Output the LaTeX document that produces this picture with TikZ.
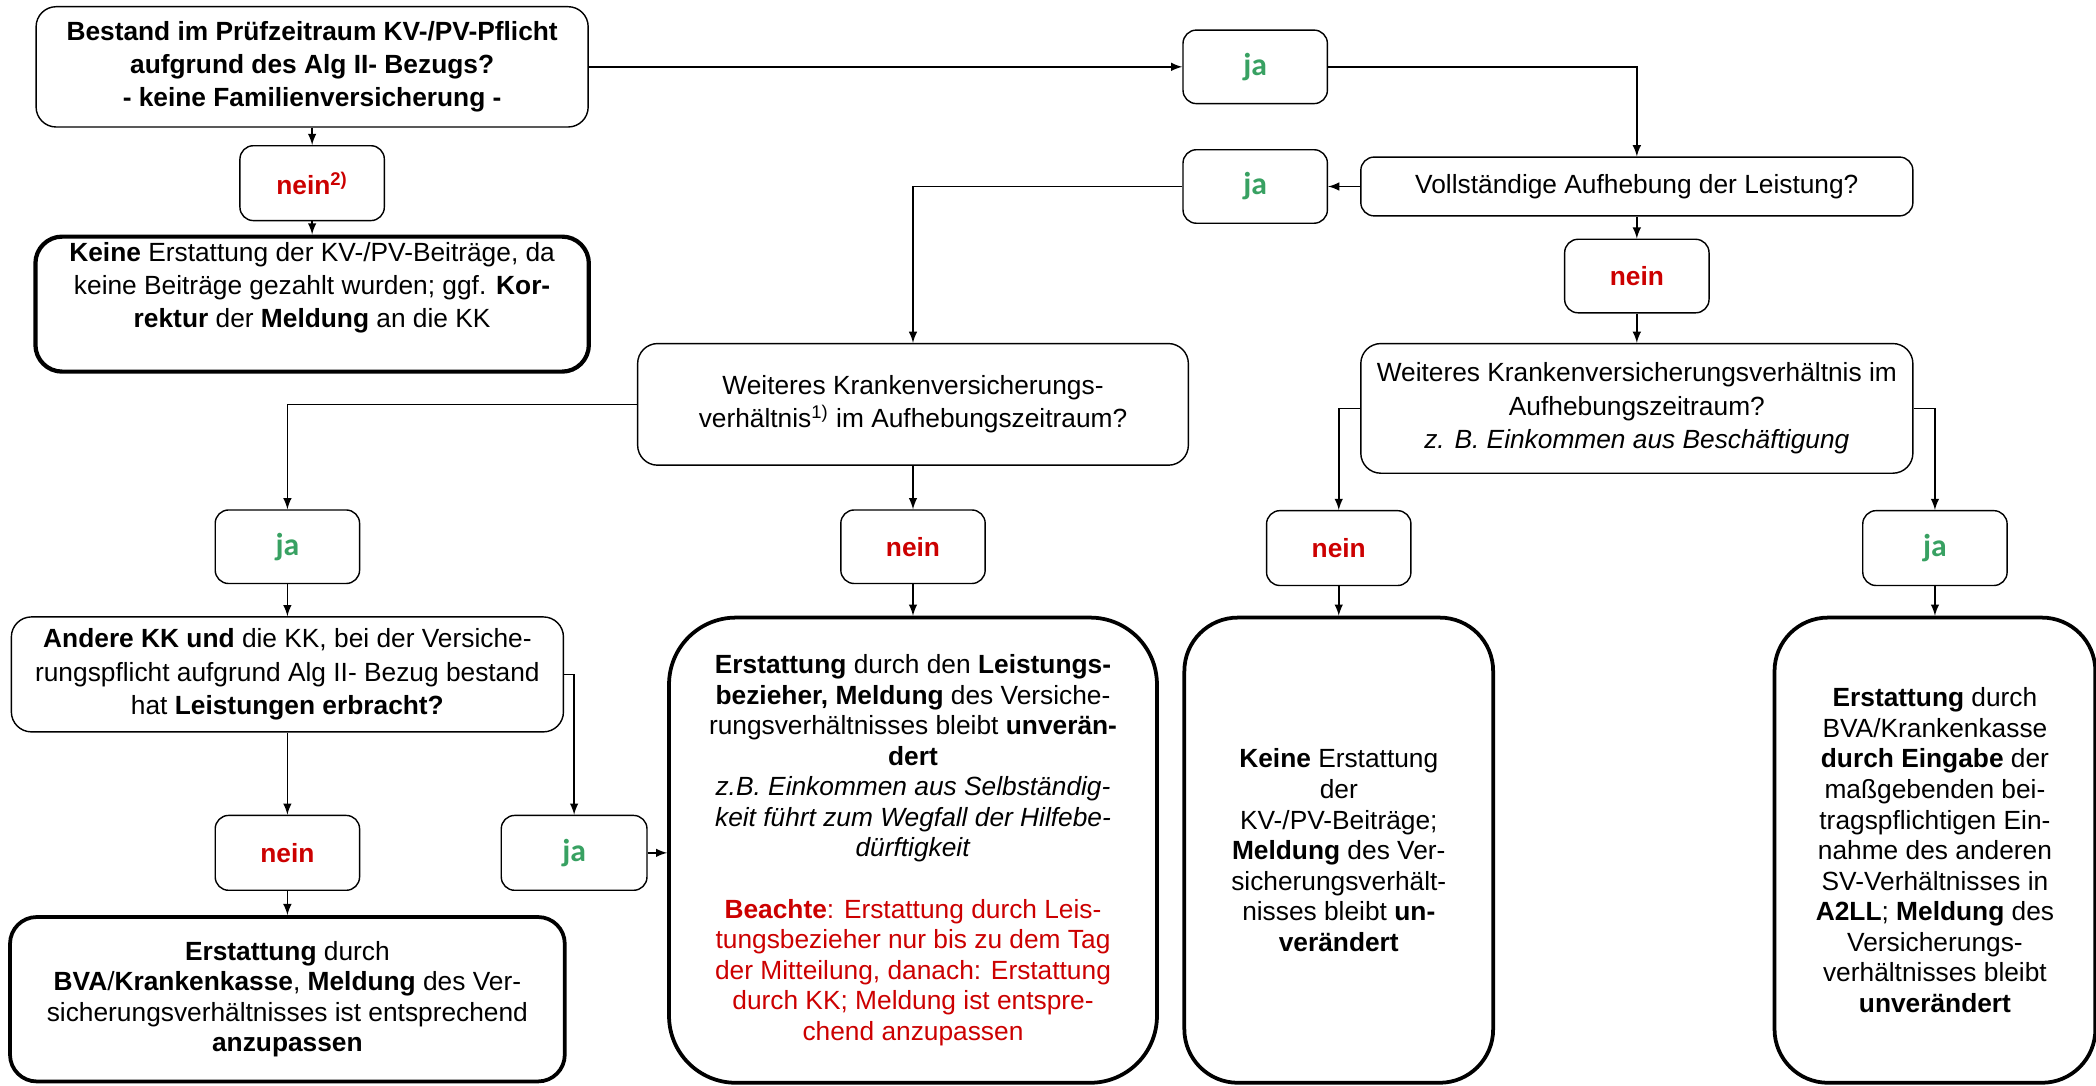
\documentclass[tikz,border=0pt]{standalone}
\usepackage{fontspec}
\setmainfont{Liberation Sans}
\newfontfamily\jafont{Carlito}
\usepackage{tikz}
\definecolor{jagreen}{RGB}{56,161,98}
\definecolor{neinred}{RGB}{204,0,0}
\newcommand{\qsize}{\fontsize{11.2pt}{14.2pt}\selectfont}
\newcommand{\rsize}{\fontsize{11.2pt}{13pt}\selectfont}
\newcommand{\jatext}{\textcolor{jagreen}{\jafont\fontsize{13.5pt}{15pt}\selectfont\bfseries ja}}
\newcommand{\neintext}{\textcolor{neinred}{\bfseries nein}}
\newcommand{\rl}[1]{\textcolor{neinred}{#1}}

\begin{document}
\begin{tikzpicture}[
	qbox/.style={draw, line width=0.6pt, rounded corners=0.3cm, align=center, inner sep=2pt, font=\qsize},
	abox/.style={draw, line width=0.6pt, rounded corners=0.2cm, inner sep=0pt, minimum width=2.16cm, minimum height=1.1cm, font=\qsize},
	rbox/.style={draw, line width=1.6pt, rounded corners=0.9cm, align=center, inner sep=2pt, font=\rsize},
	arr/.style={-latex, line width=0.65pt}]
		%%%%% START %%%%%
		\useasboundingbox (0, 0) rectangle (31.36, -16.24);
		
		% left column, top
		\node[qbox, minimum width=8.26cm, minimum height=1.8cm, font=\qsize\bfseries] (bestand) at (4.67, -1.0) {Bestand im Prüfzeitraum KV-/PV-Pflicht\\aufgrund des Alg II- Bezugs?\\- keine Familienversicherung -};
		\node[abox, minimum height=1.12cm] (neinA) at (4.67, -2.74) {\textcolor{neinred}{\bfseries nein\textsuperscript{2)}}};
		\node[rbox, line width=1.8pt, rounded corners=0.4cm, minimum width=8.28cm, minimum height=2.02cm, font=\qsize] (keineA) at (4.67, -4.55) {\textbf{Keine} Erstattung der KV-/PV-Beiträge, da\\keine Beiträge gezahlt wurden; ggf. \textbf{Kor-}\\\textbf{rektur} der \textbf{Meldung} an die KK\\[2pt]};
		
		% right branch, top
		\node[abox] (jaA) at (18.78, -1.0) {\jatext};
		\node[qbox, rounded corners=0.2cm, minimum width=8.26cm, minimum height=0.88cm] (vollst) at (24.49, -2.79) {Vollständige Aufhebung der Leistung?};
		\node[abox] (jaB) at (18.78, -2.79) {\jatext};
		\node[abox] (neinB) at (24.49, -4.13) {\neintext};
		
		\node[qbox, minimum width=8.24cm, minimum height=1.82cm] (weitM) at (13.66, -6.05) {Weiteres Krankenversicherungs-\\verhältnis\textsuperscript{1)} im Aufhebungszeitraum?};
		\node[qbox, minimum width=8.26cm, minimum height=1.94cm] (weitR) at (24.49, -6.11) {Weiteres Krankenversicherungsverhältnis im\\Aufhebungszeitraum?\\\textit{z. B. Einkommen aus Beschäftigung}};
		
		% answer row
		\node[abox] (jaC) at (4.30, -8.18) {\jatext};
		\node[abox] (neinC) at (13.66, -8.18) {\neintext};
		\node[abox, minimum height=1.12cm] (neinD) at (20.03, -8.2) {\neintext};
		\node[abox, minimum height=1.12cm] (jaD) at (28.95, -8.2) {\jatext};
		
		\node[qbox, minimum width=8.26cm, minimum height=1.72cm] (andere) at (4.30, -10.09) {\textbf{Andere KK und} die KK, bei der Versiche-\\rungspflicht aufgrund Alg II- Bezug bestand\\hat \textbf{Leistungen erbracht?}};
		\node[abox, minimum height=1.12cm] (neinE) at (4.30, -12.76) {\neintext};
		\node[abox, minimum width=2.18cm, minimum height=1.12cm] (jaE) at (8.59, -12.76) {\jatext};
		
		% results
		\node[rbox, rounded corners=0.4cm, minimum width=8.3cm, minimum height=2.46cm] (erstL) at (4.30, -14.95) {\textbf{Erstattung} durch\\\textbf{BVA}/\textbf{Krankenkasse}, \textbf{Meldung} des Ver-\\sicherungsverhältnisses ist entsprechend\\\textbf{anzupassen}};
		\node[rbox, rounded corners=1.0cm, minimum width=7.3cm, minimum height=6.96cm] (erstM) at (13.66, -12.72) {\textbf{Erstattung} durch den \textbf{Leistungs-}\\\textbf{bezieher, Meldung} des Versiche-\\rungsverhältnisses bleibt \textbf{unverän-}\\\textbf{dert}\\\textit{z.B. Einkommen aus Selbständig-}\\\textit{keit führt zum Wegfall der Hilfebe-}\\\textit{dürftigkeit}\\[13pt]\rl{\textbf{Beachte}: Erstattung durch Leis-}\\\rl{tungsbezieher nur bis zu dem Tag}\\\rl{der Mitteilung, danach: Erstattung}\\\rl{durch KK; Meldung ist entspre-}\\\rl{chend anzupassen}};
		\node[rbox, rounded corners=0.8cm, minimum width=4.62cm, minimum height=6.96cm] (keineR) at (20.03, -12.72) {\textbf{Keine} Erstattung\\der\\KV-/PV-Beiträge;\\\textbf{Meldung} des Ver-\\sicherungsverhält-\\nisses bleibt \textbf{un-}\\\textbf{verändert}};
		\node[rbox, rounded corners=0.8cm, minimum width=4.8cm, minimum height=6.96cm] (erstR) at (28.95, -12.72) {\textbf{Erstattung} durch\\BVA/Krankenkasse\\\textbf{durch Eingabe} der\\maßgebenden bei-\\tragspflichtigen Ein-\\nahme des anderen\\SV-Verhältnisses in\\\textbf{A2LL}; \textbf{Meldung} des\\Versicherungs-\\verhältnisses bleibt\\\textbf{unverändert}};
		
		% connectors
		\draw[arr] (bestand.south) -- (neinA.north);
		\draw[arr] (neinA.south) -- (keineA.north);
		\draw[arr] (bestand.east) -- (jaA.west);
		\draw[arr] (jaA.east) -| (vollst.north);
		\draw[arr] (vollst.west) -- (jaB.east);
		\draw[arr] (jaB.west) -| (weitM.north);
		\draw[arr] (vollst.south) -- (neinB.north);
		\draw[arr] (neinB.south) -- (weitR.north);
		\draw[arr] (weitM.west) -| (jaC.north);
		\draw[arr] (weitM.south) -- (neinC.north);
		\draw[arr] (weitR.west) -| (neinD.north);
		\draw[arr] (weitR.east) -| (jaD.north);
		\draw[arr] (jaC.south) -- (andere.north);
		\draw[arr] (andere.south) -- (neinE.north);
		\draw[arr] (andere.east) -| (jaE.north);
		\draw[arr] (jaE.east) -- (jaE.east -| erstM.west);
		\draw[arr] (neinE.south) -- (erstL.north);
		\draw[arr] (neinC.south) -- (erstM.north);
		\draw[arr] (neinD.south) -- (keineR.north);
		\draw[arr] (jaD.south) -- (erstR.north);
		%%%%% END %%%%%
	\end{tikzpicture}
\end{document}
